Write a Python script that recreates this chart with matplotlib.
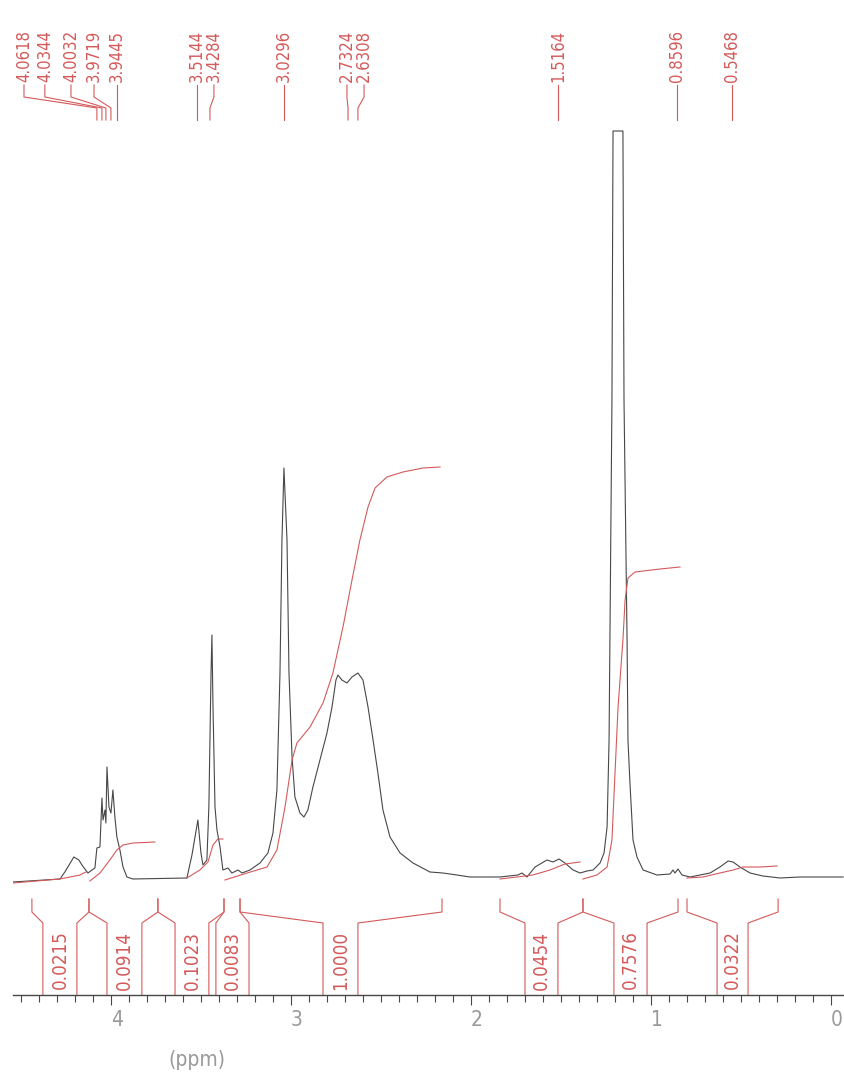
import matplotlib
matplotlib.use("Agg")
import matplotlib.pyplot as plt
import matplotlib.transforms as mtransforms
from matplotlib.ticker import MultipleLocator

plt.rcParams["font.family"] = ["DejaVu Sans"]
COND = "condensed"

# 1H spectrum trace: chemical shift (ppm) and intensity
spec_ppm = [4.544, 4.283, 4.256, 4.206, 4.178, 4.161, 4.128, 4.089, 4.078, 4.061,
            4.050, 4.044, 4.033, 4.028, 4.022, 4.011, 4.000, 3.989, 3.978, 3.967,
            3.950, 3.933, 3.911, 3.878, 3.578, 3.550, 3.517, 3.500, 3.489, 3.467,
            3.456, 3.444, 3.439, 3.433, 3.422, 3.411, 3.394, 3.378, 3.350, 3.328,
            3.294, 3.272, 3.228, 3.172, 3.128, 3.100, 3.078, 3.061, 3.050, 3.039,
            3.022, 3.011, 2.994, 2.978, 2.950, 2.928, 2.906, 2.878, 2.839, 2.800,
            2.772, 2.750, 2.739, 2.717, 2.689, 2.661, 2.628, 2.600, 2.572, 2.544,
            2.517, 2.489, 2.450, 2.394, 2.322, 2.228, 2.156, 2.078, 2.006, 1.839,
            1.739, 1.717, 1.689, 1.644, 1.578, 1.544, 1.511, 1.478, 1.433, 1.394,
            1.356, 1.322, 1.283, 1.261, 1.244, 1.233, 1.217, 1.211, 1.156, 1.150,
            1.133, 1.128, 1.117, 1.100, 1.078, 1.044, 0.967, 0.894, 0.878, 0.867,
            0.850, 0.828, 0.783, 0.672, 0.617, 0.572, 0.544, 0.506, 0.450, 0.378,
            0.283, 0.172, -0.067]
spec_int = [-2, 1, 8, 23, 20, 15, 7, 12, 32, 33,
            82, 60, 70, 57, 113, 73, 67, 90, 63, 43,
            30, 13, 3, 1, 2, 25, 60, 27, 15, 20,
            73, 207, 245, 173, 73, 50, 33, 10, 12, 7,
            10, 7, 10, 17, 27, 47, 90, 207, 340, 412,
            340, 207, 123, 83, 67, 63, 70, 93, 120, 147,
            173, 200, 205, 200, 197, 203, 207, 200, 173, 140,
            107, 70, 43, 27, 17, 8, 7, 5, 3, 3,
            5, 7, 3, 13, 20, 18, 21, 17, 10, 7,
            9, 10, 17, 27, 53, 140, 480, 749, 749, 480,
            240, 140, 97, 40, 23, 10, 5, 6, 10, 7,
            11, 5, 3, 7, 13, 19, 18, 13, 7, 4,
            2, 3, 3]

# integral traces (ppm, height)
int_curves = [
    ([4.544, 4.283, 4.172, 4.139], [-3, 1, 5, 8]),
    ([4.117, 4.061, 4.006, 3.967, 3.933, 3.878, 3.756], [-1, 7, 20, 30, 35, 37, 38]),
    ([3.578, 3.506, 3.461, 3.433, 3.406, 3.378], [2, 10, 18, 35, 41, 41]),
    ([3.367, 3.244, 3.133, 3.078, 3.033, 2.994, 2.967, 2.894, 2.822, 2.767,
      2.711, 2.661, 2.617, 2.572, 2.533, 2.467, 2.378, 2.267, 2.172],
     [0, 7, 13, 30, 73, 120, 137, 153, 177, 207,
      253, 300, 340, 373, 392, 403, 408, 412, 413]),
    ([1.839, 1.744, 1.656, 1.561, 1.478, 1.394], [1, 3, 5, 10, 16, 18]),
    ([1.378, 1.300, 1.244, 1.217, 1.200, 1.183, 1.167, 1.156, 1.144, 1.128,
      1.089, 0.950, 0.839],
     [1, 5, 13, 40, 107, 173, 213, 240, 280, 302, 308, 311, 313]),
    ([0.800, 0.711, 0.617, 0.544, 0.489, 0.394, 0.300], [2, 3, 7, 10, 13, 13, 14]),
]

# integration ranges and relative integrals
int_start = [4.439, 4.122, 3.739, 3.372, 3.283, 1.839, 1.378, 0.800]
int_end = [4.122, 3.739, 3.372, 3.283, 2.161, 1.378, 0.850, 0.294]
int_values = ["0.0215", "0.0914", "0.1023", "0.0083", "1.0000", "0.0454", "0.7576", "0.0322"]
# label columns under the brackets
col_left = [4.378, 4.022, 3.644, 3.417, 2.822, 1.700, 1.206, 0.633]
col_right = [4.189, 3.828, 3.456, 3.233, 2.628, 1.517, 1.022, 0.461]

# peak picking labels
peak_labels = ["4.0618", "4.0344", "4.0032", "3.9719", "3.9445", "3.5144", "3.4284",
               "3.0296", "2.7324", "2.6308", "1.5164", "0.8596", "0.5468"]
label_x = [4.483, 4.367, 4.222, 4.094, 3.967, 3.522, 3.428,
           3.039, 2.689, 2.594, 1.517, 0.856, 0.550]
foot_x = [4.078, 4.050, 4.028, 4.000, 3.967, 3.522, 3.450,
          3.039, 2.683, 2.628, 1.517, 0.856, 0.550]

black = "#474747"
red = "#d45a5a"
grey = "#9a9a9a"

fig = plt.figure(figsize=(8.44, 10.75), dpi=100)
ax = fig.add_axes([13 / 844, 80 / 1075, 831 / 844, 995 / 1075])
ax.set_xlim(4.544, -0.072)
ax.set_ylim(-115, 880)

ax.plot(spec_ppm, spec_int, color=black, lw=0.8)
for xs, ys in int_curves:
    ax.plot(xs, ys, color=red, lw=0.8)

# integral brackets
for a, b, cl, cr, v in zip(int_start, int_end, col_left, col_right, int_values):
    ax.plot([a, a, cl, cl], [-19, -32, -43, -115], color=red, lw=0.8)
    ax.plot([b, b, cr, cr], [-19, -32, -43, -115], color=red, lw=0.8)
    ax.text((cl + cr) / 2, -80, v, rotation=90, ha="center", va="center",
            color=red, fontsize=13.5, fontstretch=COND)

# peak labels with their connectors
for lab, tx, fx in zip(peak_labels, label_x, foot_x):
    ax.plot([tx, tx, fx, fx], [795, 783, 772, 760], color=red, lw=0.8)
    ax.text(tx, 798, lab, rotation=90, ha="center", va="bottom",
            color=red, fontsize=12, fontstretch=COND)

for sp in ["top", "right", "left"]:
    ax.spines[sp].set_visible(False)
ax.spines["bottom"].set_color(black)
ax.spines["bottom"].set_linewidth(1.0)
ax.set_yticks([])
ax.set_xticks([4, 3, 2, 1, 0])
ax.set_xticklabels(["4", "3", "2", "1", "0"], fontsize=15, fontstretch=COND)
ax.xaxis.set_minor_locator(MultipleLocator(0.1))
ax.tick_params(axis="x", which="major", direction="out", length=7, width=0.8,
               color=black, labelcolor=grey, pad=4)
ax.tick_params(axis="x", which="minor", direction="out", length=5, width=0.8, color=black)
shift = mtransforms.ScaledTranslation(6 / 100, 0, fig.dpi_scale_trans)
for lbl in ax.get_xticklabels():
    lbl.set_transform(lbl.get_transform() + shift)

ax.text(3.522, -180, "(ppm)", ha="center", va="center", color=grey,
        fontsize=15, fontstretch=COND, clip_on=False)

fig.savefig("out.png", dpi=100)
